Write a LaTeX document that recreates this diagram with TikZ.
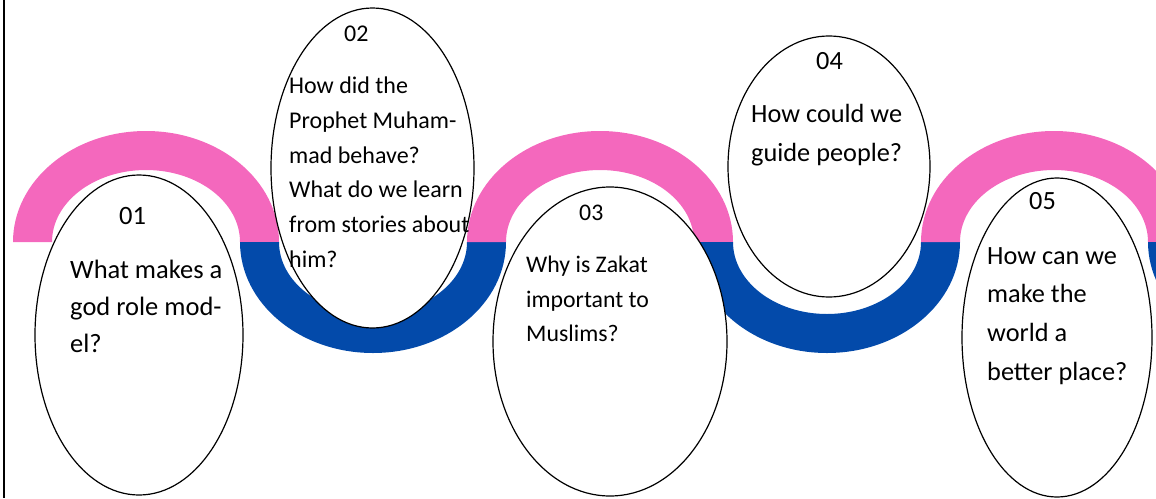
\documentclass[tikz,border=0pt]{standalone}
\usepackage{fontspec}
\setmainfont{Carlito}
\usetikzlibrary{shapes.geometric}
\definecolor{wpink}{RGB}{244,104,189}
\definecolor{wblue}{RGB}{3,74,170}
\newcommand\fsz[1]{\fontsize{#1}{#1}\selectfont}
\begin{document}
\begin{tikzpicture}[x=1pt,y=-1pt,
  bubble/.style={ellipse, draw=black, line width=1.2pt, fill=white, inner sep=0pt},
  lbl/.style={anchor=base west, inner sep=0pt, text=black}]
\useasboundingbox (0,0) rectangle (1156,498);
% wave band
\begin{scope}
\clip (0,0) rectangle (1156,498);
\foreach \c/\col/\e in {146/wpink/360, 373/wblue/0, 600/wpink/360, 827/wblue/0, 1054/wpink/360, 1281/wblue/0}{
  \fill[\col] ({\c-133},242) arc[start angle=180, end angle=\e, x radius=133, y radius=111]
     -- ({\c+94},242) arc[start angle=\e, end angle=180, x radius=94, y radius=72] -- cycle;
}
\end{scope}
% left border
\draw[line width=2pt] (3.5,0) -- (3.5,498);
% faint shadow under bubble 04
\draw[black!18, line width=2.5pt] (829,170) ++(215:101 and 130.5) arc[start angle=215, end angle=325, x radius=101, y radius=130.5];
% bubbles
\node[bubble, minimum width=208pt, minimum height=320pt] (e1) at (139,335) {};
\node[bubble, minimum width=203pt, minimum height=320pt] (e2) at (372.5,168) {};
\node[bubble, minimum width=234pt, minimum height=309pt] (e3) at (610,341.5) {};
\node[bubble, minimum width=202pt, minimum height=261pt] (e4) at (829,166.5) {};
\node[bubble, minimum width=190pt, minimum height=319pt] (e5) at (1057,337.5) {};
% texts 01
\node[lbl, font=\fsz{26.5}] (n1) at (119,224) {01};
\node[lbl, font=\fsz{26.5}] (t1a) at (70,278) {What makes a};
\node[lbl, font=\fsz{26.5}] (t1b) at (70,315) {god role mod-};
\node[lbl, font=\fsz{26.5}] (t1c) at (70,352) {el?};
% texts 02
\node[lbl, font=\fsz{24}] (n2) at (344,41) {02};
\node[lbl, font=\fsz{24}] (t2a) at (289,93) {How did the};
\node[lbl, font=\fsz{24}] (t2b) at (289,128) {Prophet Muham-};
\node[lbl, font=\fsz{24}] (t2c) at (289,163) {mad behave?};
\node[lbl, font=\fsz{24}] (t2d) at (289,197) {What do we learn};
\node[lbl, font=\fsz{24}] (t2e) at (289,232) {from stories about};
\node[lbl, font=\fsz{24}] (t2f) at (289,267) {him?};
% texts 03
\node[lbl, font=\fsz{23.8}] (n3) at (579,220) {03};
\node[lbl, font=\fsz{23.8}] (t3a) at (526,272) {Why is Zakat};
\node[lbl, font=\fsz{23.8}] (t3b) at (526,307) {important to};
\node[lbl, font=\fsz{23.8}] (t3c) at (526,341) {Muslims?};
% texts 04
\node[lbl, font=\fsz{26.3}] (n4) at (816,69) {04};
\node[lbl, font=\fsz{26.3}] (t4a) at (751,122) {How could we};
\node[lbl, font=\fsz{26.3}] (t4b) at (751,161) {guide people?};
% texts 05
\node[lbl, font=\fsz{26.3}] (n5) at (1029,209) {05};
\node[lbl, font=\fsz{26.3}] (t5a) at (987,264) {How can we};
\node[lbl, font=\fsz{26.3}] (t5b) at (987,302) {make the};
\node[lbl, font=\fsz{26.3}] (t5c) at (987,341) {world a};
\node[lbl, font=\fsz{26.3}] (t5d) at (987,380) {better place?};
\end{tikzpicture}
\end{document}
